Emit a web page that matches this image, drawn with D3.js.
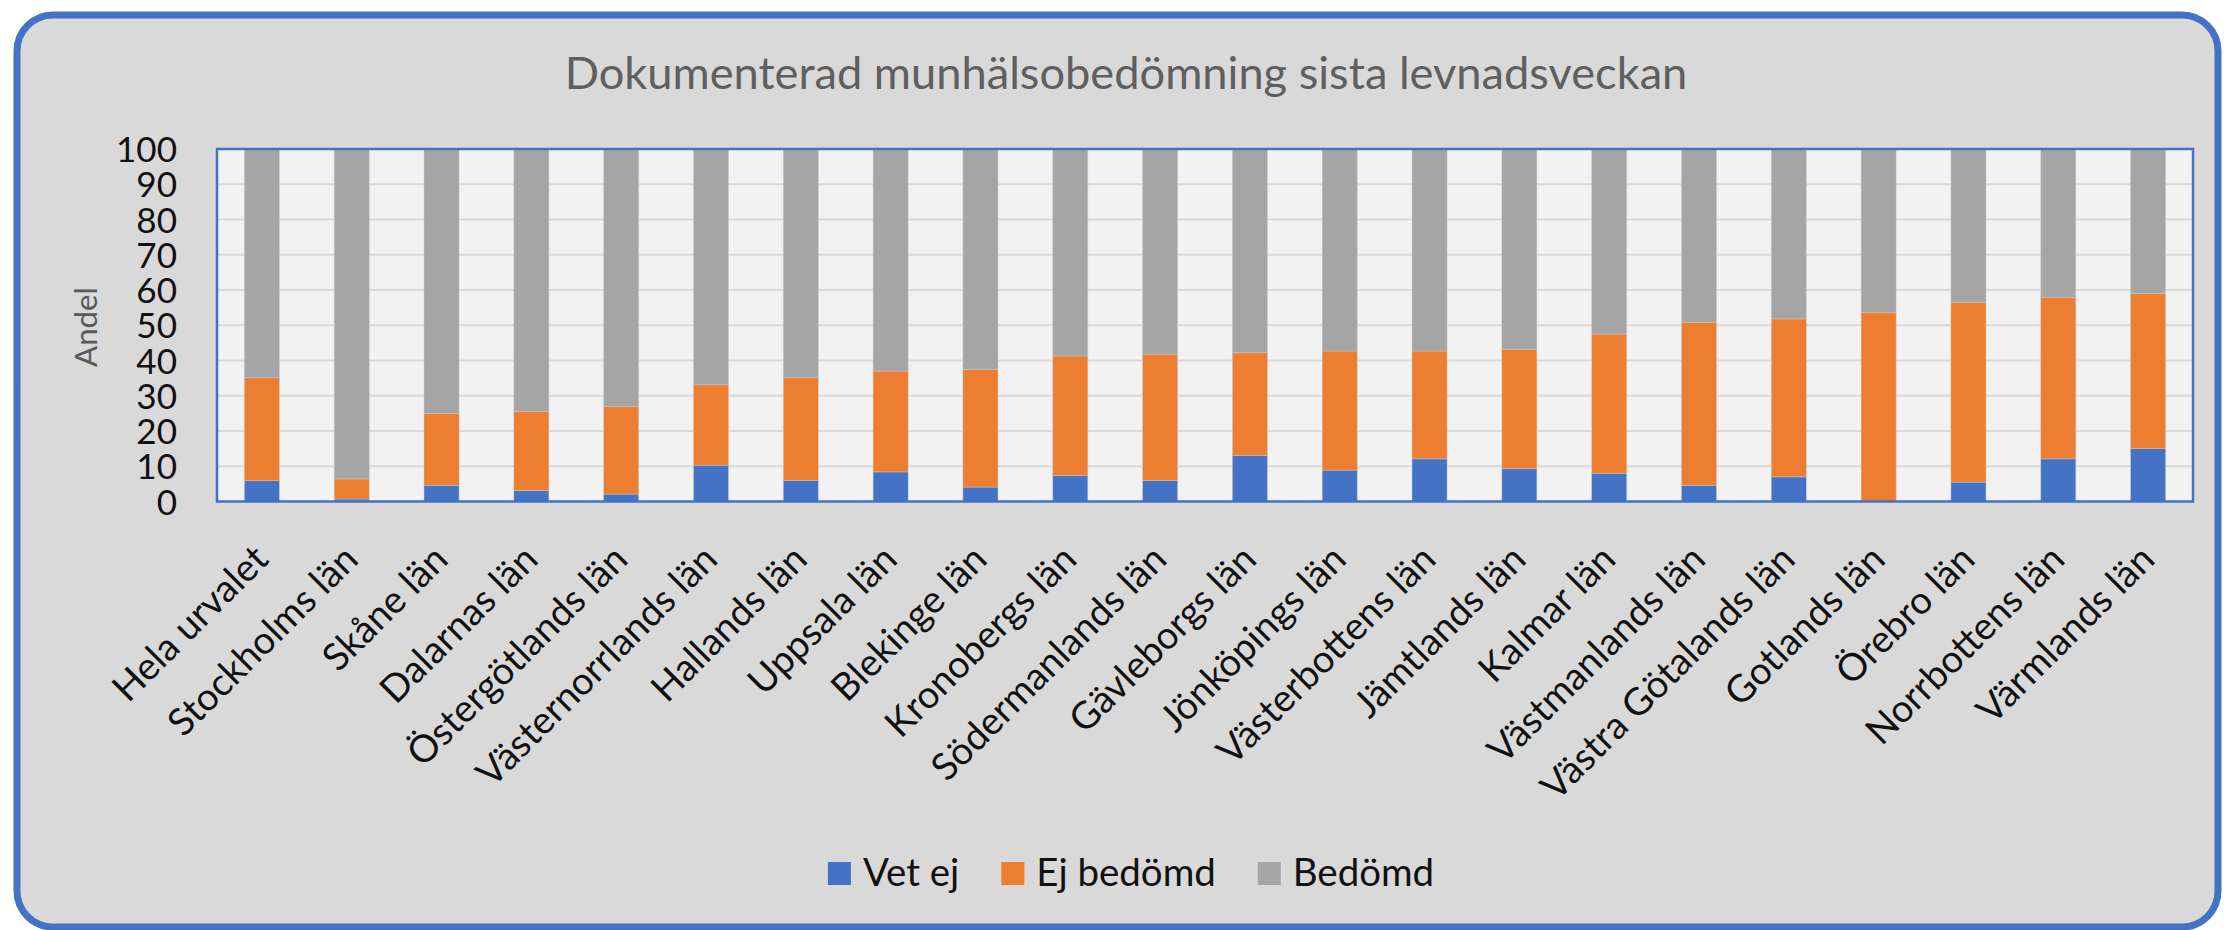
<!DOCTYPE html>
<html>
<head>
<meta charset="utf-8">
<script src="https://cdn.jsdelivr.net/npm/d3@7"></script>
<style>
  html, body { margin: 0; padding: 0; background: #ffffff; }
  svg { display: block; }
</style>
</head>
<body>
<svg id="chart" width="2224" height="930"></svg>
<script>
// ---- data ----
const categories = ["Hela urvalet","Stockholms län","Skåne län","Dalarnas län","Östergötlands län","Västernorrlands län","Hallands län","Uppsala län","Blekinge län","Kronobergs län","Södermanlands län","Gävleborgs län","Jönköpings län","Västerbottens län","Jämtlands län","Kalmar län","Västmanlands län","Västra Götalands län","Gotlands län","Örebro län","Norrbottens län","Värmlands län"];
const seriesNames = ["Vet ej","Ej bedömd","Bedömd"];
const vetEj     = [5.9,0.7,4.6,3.1,2.1,10.3,6.0,8.4,4.1,7.4,6.0,13.1,8.9,12.1,9.3,7.9,4.6,7.0,0.0,5.5,12.1,15.0];
const ejBedomd  = [29.2,5.7,20.4,22.5,24.8,22.8,29.1,28.6,33.4,33.9,35.8,29.1,33.8,30.6,33.9,39.6,46.2,44.8,53.7,51.0,45.8,44.0];
const bedomd    = [64.9,93.6,75.0,74.4,73.1,66.9,64.9,63.0,62.5,58.7,58.2,57.8,57.3,57.3,56.8,52.5,49.2,48.2,46.3,43.5,42.1,41.0];
const yTicks    = [0,10,20,30,40,50,60,70,80,90,100];
const titleText = "Dokumenterad munhälsobedömning sista levnadsveckan";
const yAxisTitle = "Andel";
const colors = ["#4472C4","#ED7D31","#A5A5A5"];

// ---- layout ----
const svg = d3.select("#chart");
const FONT = "Lato, 'Open Sans', 'Noto Sans', sans-serif";
const plot = { left: 217, right: 2193, top: 149, bottom: 501.5 };

function fitSize(text, weight, targetW) {
  const t = svg.append("text").attr("font-family", FONT).attr("font-weight", weight)
    .attr("font-size", 100).text(text);
  const w = t.node().getComputedTextLength();
  t.remove();
  return 100 * targetW / w;
}

// outer chart area
svg.append("rect")
  .attr("x", 17).attr("y", 15).attr("width", 2218 - 17).attr("height", 927 - 15)
  .attr("rx", 36).attr("ry", 36)
  .attr("fill", "#D9D9D9").attr("stroke", "#4472C4").attr("stroke-width", 7);

// title
const titleSize = fitSize(titleText, 400, 1123);
svg.append("text")
  .attr("x", 1126).attr("y", 89)
  .attr("text-anchor", "middle")
  .attr("font-family", FONT).attr("font-weight", 400)
  .attr("font-size", titleSize).attr("fill", "#5f5f5f")
  .text(titleText);

// scales
const x = d3.scaleBand().domain(categories).range([plot.left, plot.right])
  .paddingInner(0.61).paddingOuter(0.305);
const y = d3.scaleLinear().domain([0, 100]).range([plot.bottom, plot.top]);

// plot area background
svg.append("rect")
  .attr("x", plot.left).attr("y", plot.top)
  .attr("width", plot.right - plot.left).attr("height", plot.bottom - plot.top)
  .attr("fill", "#F2F2F2");

// gridlines
svg.append("g").selectAll("line").data(yTicks).join("line")
  .attr("x1", plot.left).attr("x2", plot.right)
  .attr("y1", d => y(d)).attr("y2", d => y(d))
  .attr("stroke", "#D9D9D9").attr("stroke-width", 2);

// stacked bars
const rows = categories.map((c, i) => ({ cat: c, "Vet ej": vetEj[i], "Ej bedömd": ejBedomd[i], "Bedömd": bedomd[i] }));
const stacked = d3.stack().keys(seriesNames)(rows);
svg.append("g").selectAll("g").data(stacked).join("g")
  .attr("fill", (d, i) => colors[i])
  .selectAll("rect").data(d => d).join("rect")
  .attr("x", d => x(d.data.cat))
  .attr("width", x.bandwidth())
  .attr("y", d => y(d[1]))
  .attr("height", d => Math.max(0, y(d[0]) - y(d[1])))
  .attr("stroke", "#c9c9c9").attr("stroke-width", 0.75).attr("stroke-opacity", 0.6);

// plot border
svg.append("rect")
  .attr("x", plot.left).attr("y", plot.top)
  .attr("width", plot.right - plot.left).attr("height", plot.bottom - plot.top)
  .attr("fill", "none").attr("stroke", "#4472C4").attr("stroke-width", 2.5);

// y axis labels
const tickSize = fitSize("100", 400, 61);
const yAxis = d3.axisLeft(y).tickValues(yTicks).tickSize(0).tickPadding(0).tickFormat(d3.format("d"));
const yg = svg.append("g").attr("transform", `translate(177,0)`).call(yAxis);
yg.select(".domain").remove();
yg.selectAll("text").attr("font-family", FONT).attr("font-size", tickSize)
  .attr("fill", "#111111").attr("dy", "0.36em");

// y axis title
const andelSize = fitSize(yAxisTitle, 400, 80);
svg.append("text")
  .attr("transform", `translate(97,327) rotate(-90)`)
  .attr("text-anchor", "middle")
  .attr("font-family", FONT).attr("font-size", andelSize)
  .attr("fill", "#595959")
  .text(yAxisTitle);

// x axis labels
const xSize = fitSize("Stockholms län", 400, 250);
const xAxis = d3.axisBottom(x).tickSize(0).tickPadding(0);
const xg = svg.append("g").attr("transform", `translate(0,${plot.bottom})`).call(xAxis);
xg.select(".domain").remove();
xg.selectAll(".tick text")
  .attr("font-family", FONT).attr("font-size", xSize).attr("fill", "#111111")
  .attr("text-anchor", "end")
  .attr("dy", null).attr("y", null)
  .attr("transform", "translate(8.5,60) rotate(-45)");

// legend
const legSize = fitSize("Ej bedömd", 400, 179.5);
const sq = 23, gapSqText = 12, gapItems = 42;
const tmpW = seriesNames.map(n => {
  const t = svg.append("text").attr("font-family", FONT).attr("font-size", legSize).text(n);
  const w = t.node().getComputedTextLength(); t.remove(); return w;
});
const totalW = d3.sum(tmpW) + seriesNames.length * (sq + gapSqText) + (seriesNames.length - 1) * gapItems;
let lx = 1131 - totalW / 2;
const legend = svg.append("g");
seriesNames.forEach((n, i) => {
  legend.append("rect").attr("x", lx).attr("y", 862).attr("width", sq).attr("height", sq).attr("fill", colors[i]);
  legend.append("text").attr("x", lx + sq + gapSqText).attr("y", 886)
    .attr("font-family", FONT).attr("font-size", legSize).attr("fill", "#111111").text(n);
  lx += sq + gapSqText + tmpW[i] + gapItems;
});
</script>
</body>
</html>
